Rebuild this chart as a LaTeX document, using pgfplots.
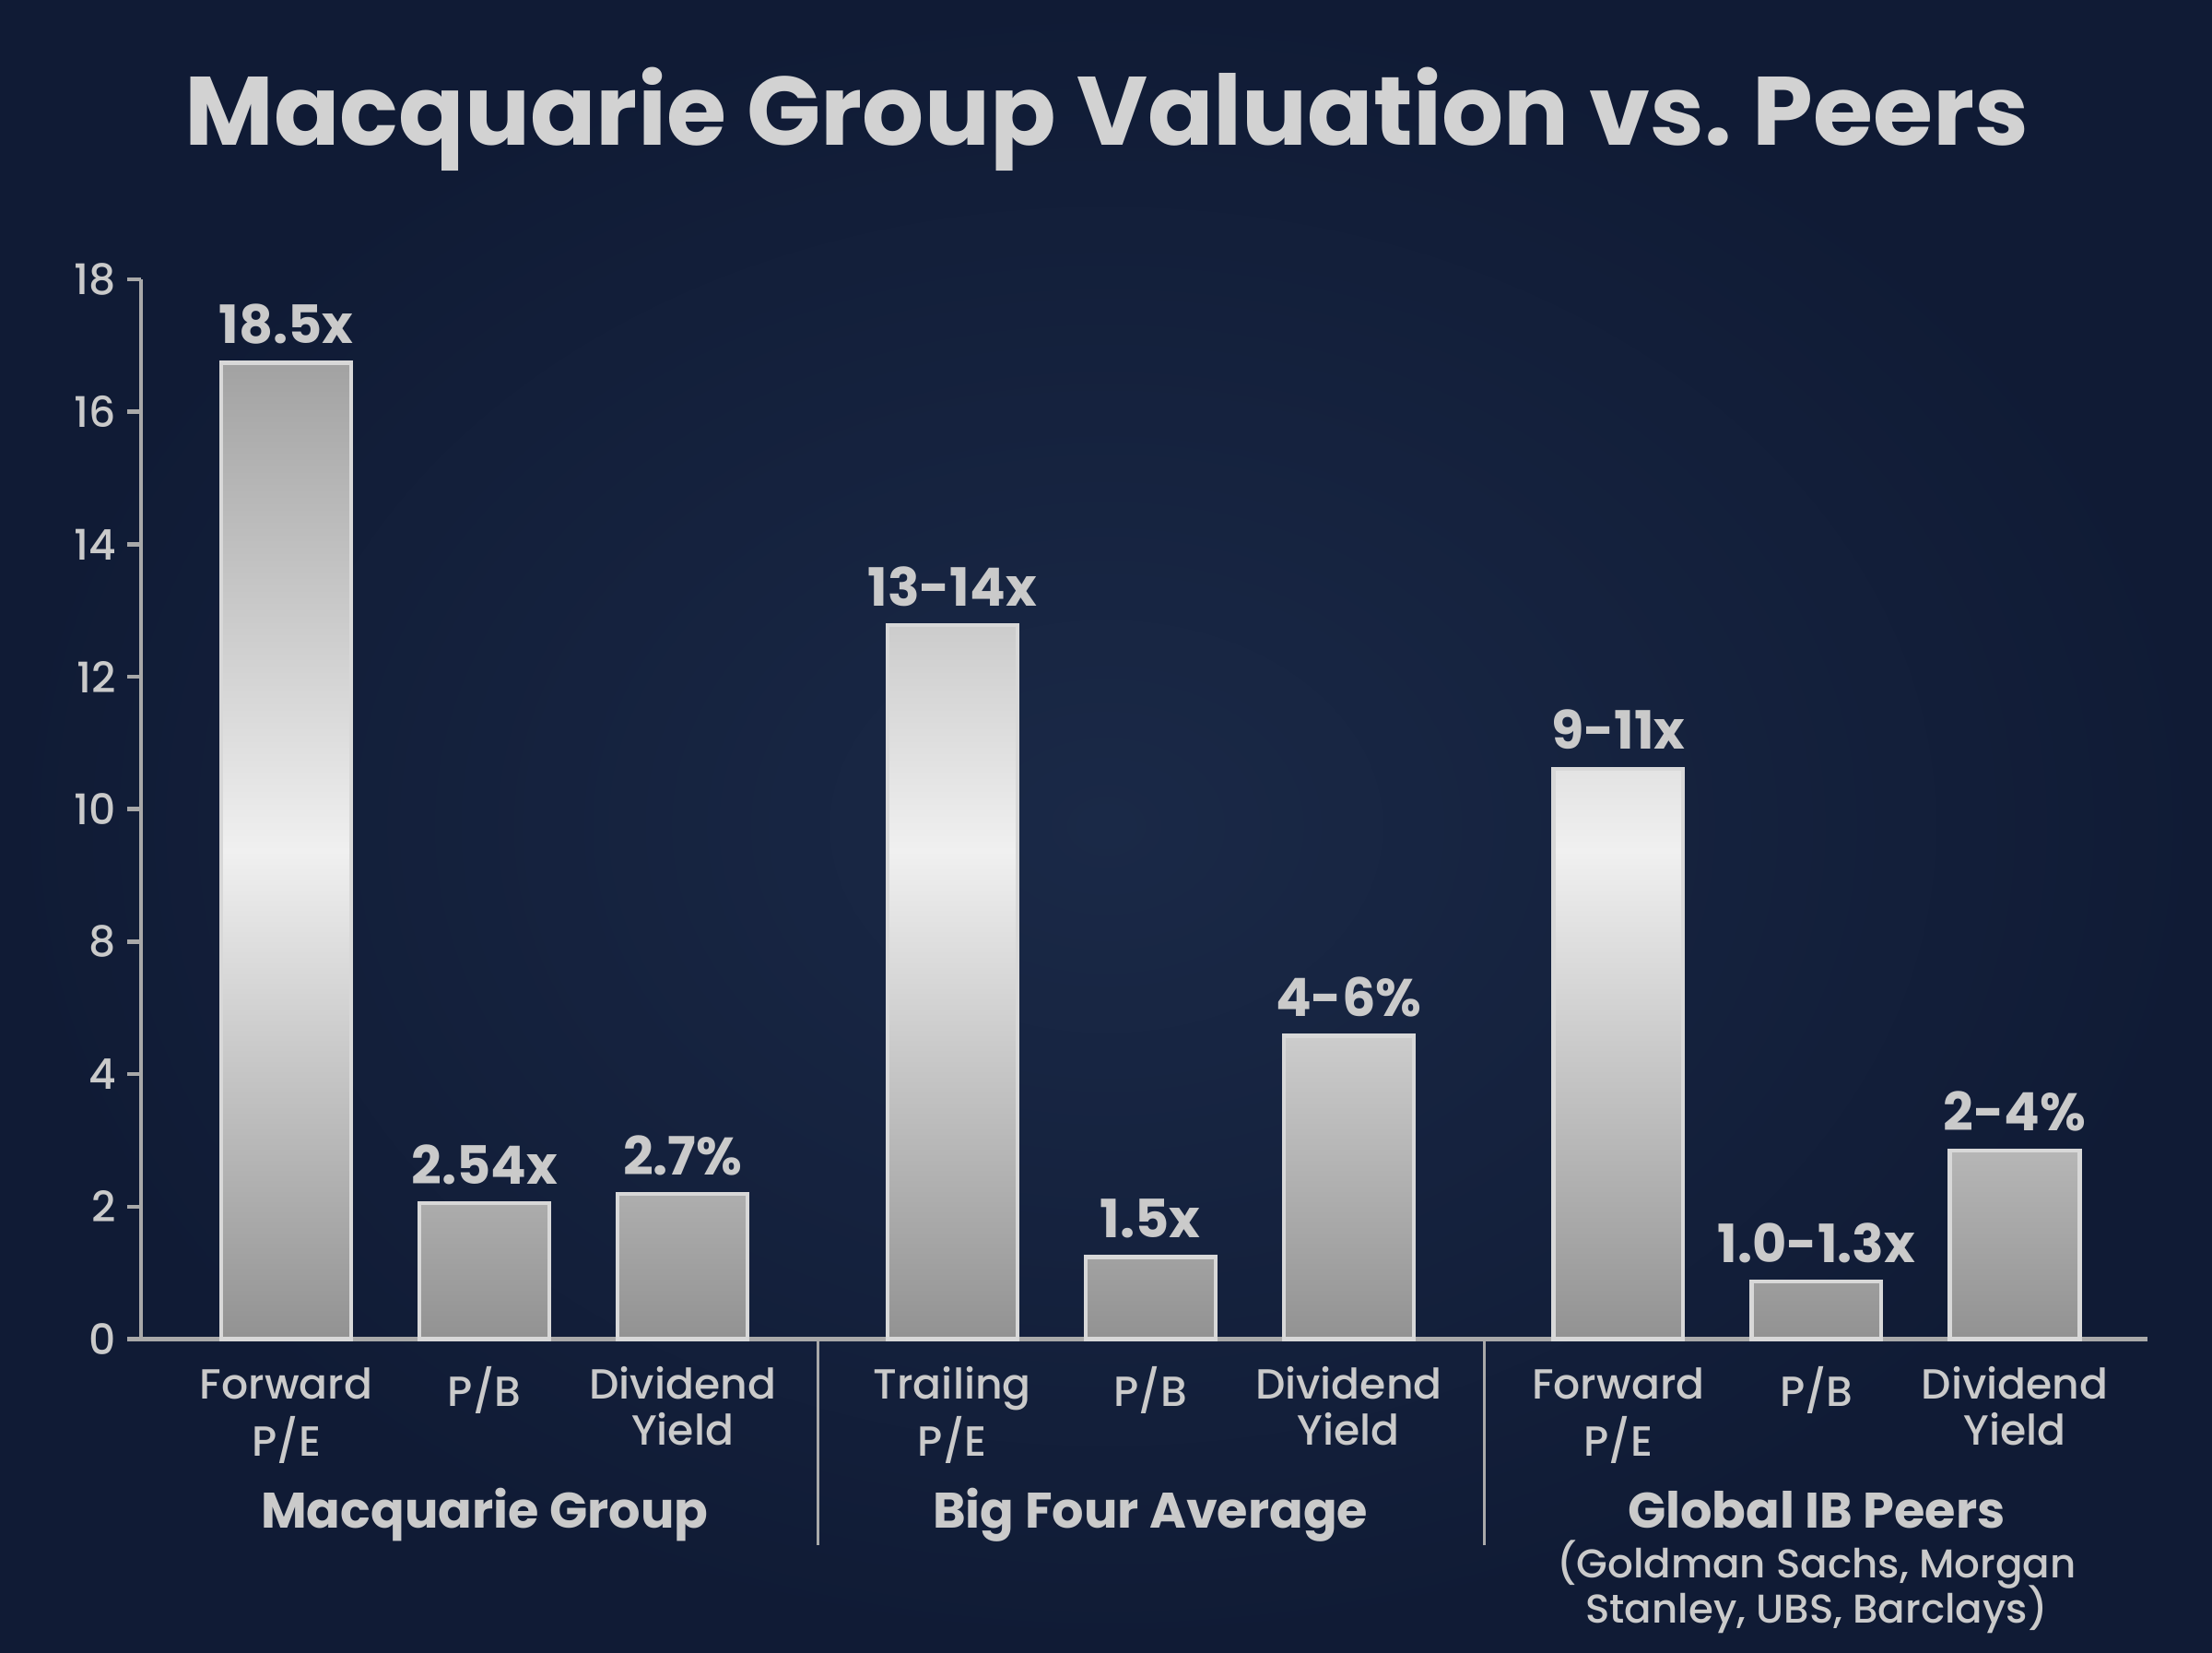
\documentclass[border=0pt]{standalone}
\usepackage{pgfplots}
\pgfplotsset{compat=1.18}
\usepackage{fontspec}
\setmainfont{Poppins}
\newfontfamily\pmed{Poppins Medium}
\definecolor{bgin}{HTML}{1A2947}
\definecolor{bgout}{HTML}{101B35}
\definecolor{txt}{HTML}{CACACA}
\definecolor{titlec}{HTML}{D2D2D2}
\definecolor{axisc}{HTML}{A9A9A9}
\definecolor{bartop}{HTML}{A2A2A2}
\definecolor{barmid}{HTML}{F0F0F0}
\definecolor{barbot}{HTML}{929292}
\definecolor{baredge}{HTML}{D8D8D8}
\begin{document}
\begin{tikzpicture}
\useasboundingbox (0,0) rectangle (24,17.92);
\shade[inner color=bgin, outer color=bgout] (0,0) rectangle (24,17.92);
\node[anchor=base, font=\fontsize{30}{36}\selectfont\bfseries, text=titlec, inner sep=0pt] at (12.01,16.34) {Macquarie Group Valuation vs.\ Peers};
\begin{axis}[
  at={(1.53cm,3.395cm)}, anchor=south west,
  scale only axis, width=21.77cm, height=11.495cm,
  xmin=-0.733, xmax=9.39, ymin=0, ymax=16,
  axis x line=bottom, axis y line=left,
  axis line style={-, draw=axisc, line width=1.3pt},
  /pgf/number format/assume math mode=true,
  ytick={0,2,4,6,8,10,12,14,16},
  yticklabels={0,2,4,8,10,12,14,16,18},
  tick align=outside, major tick length=0.15cm,
  ytick style={draw=axisc, line width=1.3pt},
  xtick={0,1,2,3.36,4.36,5.36,6.72,7.72,8.72},
  xticklabels={{\strut Forward\\\strut P/E},{\strut P/B\\\strut},{\strut Dividend\\\strut Yield},{\strut Trailing\\\strut P/E},{\strut P/B\\\strut},{\strut Dividend\\\strut Yield},{\strut Forward\\\strut P/E},{\strut P/B\\\strut},{\strut Dividend\\\strut Yield}},
  xtick style={draw=none},
  xticklabel style={align=center, font=\pmed\fontsize{13}{14.4}\selectfont, text=txt, anchor=north, yshift=-0.02cm},
  yticklabel style={font=\pmed\fontsize{13}{15}\selectfont, text=txt},
  ybar, bar width=0.655,
  nodes near coords, point meta=explicit symbolic,
  nodes near coords style={font=\fontsize{16.3}{18}\selectfont\bfseries, text=txt, anchor=base, yshift=0.21cm},
  clip=false,
]
\addplot[draw=baredge, line width=1.2pt, top color=bartop, bottom color=barbot, middle color=barmid] coordinates {
(0,14.74) [18.5x]
(1,2.05) [2.54x]
(2,2.19) [2.7\%]
(3.36,10.78) [13-14x]
(4.36,1.24) [1.5x]
(5.36,4.58) [4-6\%]
(6.72,8.61) [9-11x]
(7.72,0.87) [1.0-1.3x]
(8.72,2.85) [2-4\%]
};
\draw[axisc, line width=0.9pt] (axis cs:2.683,0) -- ([yshift=-2.23cm]axis cs:2.683,0);
\draw[axisc, line width=0.9pt] (axis cs:6.043,0) -- ([yshift=-2.23cm]axis cs:6.043,0);
\node[anchor=base, font=\fontsize{15.4}{18}\selectfont\bfseries, text=txt, yshift=-2.05cm] at (axis cs:1,0) {Macquarie Group};
\node[anchor=base, font=\fontsize{15.4}{18}\selectfont\bfseries, text=txt, yshift=-2.05cm] at (axis cs:4.36,0) {Big Four Average};
\node[anchor=base, font=\fontsize{15.4}{18}\selectfont\bfseries, text=txt, yshift=-2.05cm] at (axis cs:7.72,0) {Global IB Peers};
\node[anchor=base, font=\pmed\fontsize{12.4}{14.8}\selectfont, text=txt, yshift=-2.585cm] at (axis cs:7.72,0) {(Goldman Sachs, Morgan};
\node[anchor=base, font=\pmed\fontsize{12.4}{14.8}\selectfont, text=txt, yshift=-3.075cm] at (axis cs:7.72,0) {Stanley, UBS, Barclays)};
\end{axis}
\end{tikzpicture}
\end{document}
